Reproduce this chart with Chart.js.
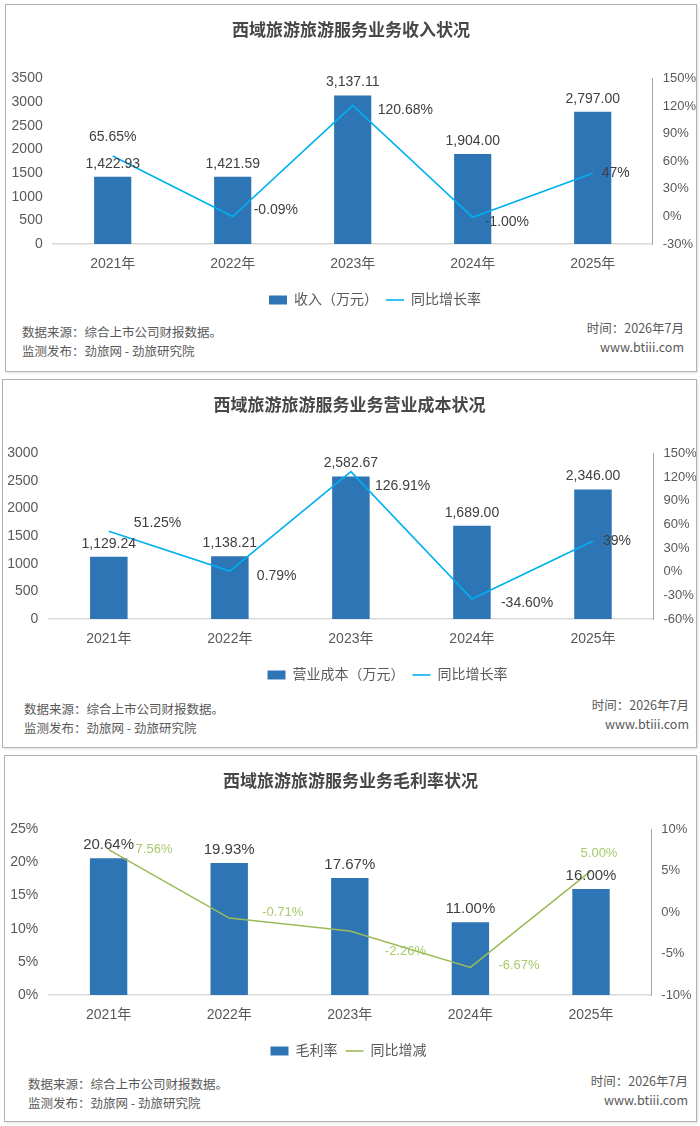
<!DOCTYPE html>
<html lang="zh-CN">
<head>
<meta charset="utf-8">
<title>西域旅游旅游服务业务状况</title>
<script src="https://cdn.jsdelivr.net/npm/chart.js@4"></script>
<style>
  html, body { margin: 0; padding: 0; background: #fff; }
  body { width: 700px; height: 1126px; position: relative; overflow: hidden;
         font-family: "Noto Sans CJK SC", sans-serif; }
  .panel { position: absolute; box-sizing: border-box; border: 1px solid #B2B2B2;
           background: #fff; box-shadow: 1px 1px 2px rgba(0, 0, 0, 0.12); }
  .plot { position: absolute; left: 0; top: 0; }
  .note { position: absolute; font-size: 12.5px; line-height: 18.5px; color: #595959; white-space: nowrap; }
  .note.right { text-align: right; }
</style>
</head>
<body>

<div class="panel" style="left:5px; top:4px; width:692px; height:368px;">
  <div class="plot" style="width:690px; height:312px;"><canvas id="incomeChart"></canvas></div>
  <div class="note" style="left:16px; top:318px;">数据来源：综合上市公司财报数据。<br>监测发布：劲旅网 - 劲旅研究院</div>
  <div class="note right" style="right:12px; top:314px;">时间：2026年7月<br>www.btiii.com</div>
</div>

<div class="panel" style="left:2px; top:379px; width:695px; height:369px;">
  <div class="plot" style="width:693px; height:312px;"><canvas id="costChart"></canvas></div>
  <div class="note" style="left:21px; top:320px;">数据来源：综合上市公司财报数据。<br>监测发布：劲旅网 - 劲旅研究院</div>
  <div class="note right" style="right:7px; top:316px;">时间：2026年7月<br>www.btiii.com</div>
</div>

<div class="panel" style="left:4px; top:755px; width:693px; height:367px;">
  <div class="plot" style="width:691px; height:312px;"><canvas id="marginChart"></canvas></div>
  <div class="note" style="left:23px; top:319px;">数据来源：综合上市公司财报数据。<br>监测发布：劲旅网 - 劲旅研究院</div>
  <div class="note right" style="right:8px; top:316px;">时间：2026年7月<br>www.btiii.com</div>
</div>

<script>
// ---- data ----
const years = ['2021年', '2022年', '2023年', '2024年', '2025年'];

// 收入（万元）/ 同比增长率
const income = [1422.93, 1421.59, 3137.11, 1904.00, 2797.00];
const incomeYoY = ['65.65', '-0.09', '120.68', '-1.00', '47'];
const incomeAxis = [0, 3500, 500];
const incomeRateAxis = [-30, 150, 30];

// 营业成本（万元）/ 同比增长率
const cost = [1129.24, 1138.21, 2582.67, 1689.00, 2346.00];
const costYoY = ['51.25', '0.79', '126.91', '-34.60', '39'];
const costAxis = [0, 3000, 500];
const costRateAxis = [-60, 150, 30];

// 毛利率 / 同比增减
const grossMargin = [20.64, 19.93, 17.67, 11.00, 16.00];
const marginChange = ['7.56', '-0.71', '-2.26', '-6.67', '5.00'];
const marginAxis = [0, 25, 5];
const marginChangeAxis = [-10, 10, 5];

const BLUE = '#2E75B6';
const CYAN = '#00B0F0';
const GREEN = '#9BBB59';
const FONT = '"Liberation Sans", Arial, "Noto Sans CJK SC", sans-serif';

Chart.defaults.font.family = FONT;
Chart.defaults.color = '#595959';
Chart.defaults.animation = false;

const money = v => v.toLocaleString('en-US', { minimumFractionDigits: 2, maximumFractionDigits: 2 });

// draws value labels next to bars / line points
const pointLabels = {
    id: 'pointLabels',
    afterDatasetsDraw(chart, args, opts) {
        const ctx = chart.ctx;
        (opts.sets || []).forEach(set => {
            const meta = chart.getDatasetMeta(set.dataset);
            ctx.save();
            ctx.font = set.size + 'px ' + FONT;
            ctx.fillStyle = set.color;
            ctx.textBaseline = 'middle';
            meta.data.forEach((el, i) => {
                const spot = set.spots ? set.spots[i] : [0, -13, 'center'];
                ctx.textAlign = spot[2];
                ctx.fillText(set.text[i], el.x + spot[0], el.y + spot[1]);
            });
            ctx.restore();
        });
    }
};

// nudges the legend sideways, the original is not centred
const legendShift = {
    id: 'legendShift',
    afterLayout(chart, args, opts) {
        if (!chart.legend || !opts.dx) return;
        chart.legend.left += opts.dx;
        chart.legend.right += opts.dx;
    }
};

function buildChart(id, cfg) {
    const ctx = document.getElementById(id).getContext('2d');
    return new Chart(ctx, {
        type: 'bar',
        data: {
            labels: years,
            datasets: [{
                type: 'bar',
                label: cfg.barName,
                data: cfg.bars,
                backgroundColor: BLUE,
                borderWidth: 0,
                barPercentage: 0.31,
                categoryPercentage: 1,
                pointStyle: 'rect',
                yAxisID: 'y',
                order: 1
            }, {
                type: 'line',
                label: cfg.lineName,
                data: cfg.line.map(Number),
                borderColor: cfg.lineColor,
                backgroundColor: cfg.lineColor,
                borderWidth: 1.6,
                pointRadius: 0,
                pointHoverRadius: 0,
                pointStyle: 'line',
                tension: 0,
                yAxisID: 'y1',
                order: 0
            }]
        },
        options: {
            responsive: true,
            maintainAspectRatio: false,
            layout: { padding: 0 },
            plugins: {
                title: {
                    display: true,
                    text: cfg.title,
                    color: '#474747',
                    font: { size: 17, weight: 'bold', family: FONT },
                    padding: { top: 16, bottom: 37 }
                },
                legend: {
                    position: 'bottom',
                    labels: {
                        usePointStyle: true,
                        pointStyleWidth: 18,
                        boxHeight: 9,
                        padding: 8,
                        color: '#595959',
                        font: { size: 14 },
                        sort: (a, b) => a.datasetIndex - b.datasetIndex
                    }
                },
                tooltip: { enabled: false },
                pointLabels: {
                    sets: [
                        { dataset: 0, text: cfg.barText, size: cfg.barLabelSize, color: '#404040' },
                        { dataset: 1, text: cfg.line.map(v => v + '%'), size: cfg.lineLabelSize,
                          color: cfg.lineLabelColor, spots: cfg.lineSpots }
                    ]
                },
                legendShift: { dx: cfg.legendDx }
            },
            scales: {
                x: {
                    grid: { display: false, drawTicks: false },
                    border: { display: true, color: '#D9D9D9', width: 1.5 },
                    ticks: { font: { size: 14 }, color: '#595959', padding: 12 },
                    afterFit: s => { s.height = 41; }
                },
                y: {
                    position: 'left',
                    min: cfg.leftAxis[0],
                    max: cfg.leftAxis[1],
                    grid: { display: false, drawTicks: false },
                    border: { display: false },
                    ticks: {
                        stepSize: cfg.leftAxis[2],
                        font: { size: 14 },
                        color: '#595959',
                        padding: 10,
                        callback: cfg.leftTick
                    },
                    afterFit: s => { s.width = cfg.leftWidth; }
                },
                y1: {
                    position: 'right',
                    min: cfg.rightAxis[0],
                    max: cfg.rightAxis[1],
                    grid: { display: false, drawTicks: false },
                    border: { display: true, color: '#A6A6A6', width: 1 },
                    ticks: {
                        stepSize: cfg.rightAxis[2],
                        font: { size: 13 },
                        color: '#595959',
                        padding: 10,
                        callback: v => v + '%'
                    },
                    afterFit: s => { s.width = cfg.rightWidth; }
                }
            }
        },
        plugins: [pointLabels, legendShift]
    });
}

buildChart('incomeChart', {
    title: '西域旅游旅游服务业务收入状况',
    barName: '收入（万元）',
    lineName: '同比增长率',
    bars: income,
    line: incomeYoY,
    barText: income.map(money),
    barLabelSize: 14,
    lineLabelSize: 14,
    lineColor: CYAN,
    lineLabelColor: '#404040',
    lineSpots: [[0, -19, 'center'], [21, -6, 'left'], [25, 5, 'left'], [12, 5, 'left'], [9, 0, 'left']],
    leftAxis: incomeAxis,
    rightAxis: incomeRateAxis,
    leftTick: v => v,
    leftWidth: 46.7,
    rightWidth: 43.3,
    legendDx: 24
});

buildChart('costChart', {
    title: '西域旅游旅游服务业务营业成本状况',
    barName: '营业成本（万元）',
    lineName: '同比增长率',
    bars: cost,
    line: costYoY,
    barText: cost.map(money),
    barLabelSize: 14,
    lineLabelSize: 14,
    lineColor: CYAN,
    lineLabelColor: '#404040',
    lineSpots: [[25, -8, 'left'], [27, 5, 'left'], [24, 15, 'left'], [29, 4, 'left'], [10, 0, 'left']],
    leftAxis: costAxis,
    rightAxis: costRateAxis,
    leftTick: v => v,
    leftWidth: 45.3,
    rightWidth: 42.5,
    legendDx: 38
});

buildChart('marginChart', {
    title: '西域旅游旅游服务业务毛利率状况',
    barName: '毛利率',
    lineName: '同比增减',
    bars: grossMargin,
    line: marginChange,
    barText: grossMargin.map(v => v.toFixed(2) + '%'),
    barLabelSize: 15,
    lineLabelSize: 13,
    lineColor: GREEN,
    lineLabelColor: '#A9C96B',
    lineSpots: [[27, 0, 'left'], [33, -6, 'left'], [35, 21, 'left'], [28, -2, 'left'], [8, -17, 'center']],
    leftAxis: marginAxis,
    rightAxis: marginChangeAxis,
    leftTick: v => v + '%',
    leftWidth: 43.3,
    rightWidth: 44.7,
    legendDx: -2
});
</script>
</body>
</html>
